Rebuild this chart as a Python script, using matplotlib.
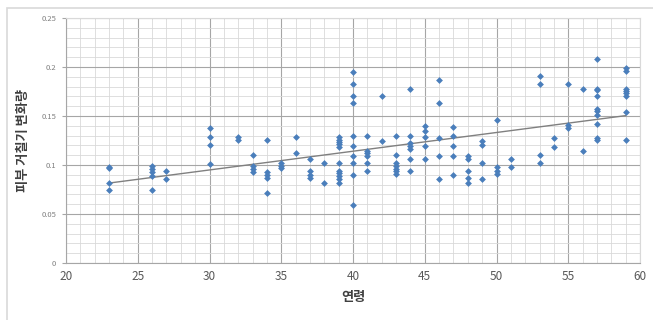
import numpy as np
import matplotlib
matplotlib.use('Agg')
import matplotlib.pyplot as plt
from matplotlib.patches import Rectangle
from matplotlib.ticker import MultipleLocator, FuncFormatter

plt.rcParams['font.family'] = ['Noto Sans CJK KR', 'DejaVu Sans']

# 연령별 피부 거칠기 변화량
age_groups = {
    23: [0.098, 0.097, 0.082, 0.074],
    26: [0.099, 0.0956, 0.0925, 0.089, 0.074],
    27: [0.094, 0.086],
    30: [0.138, 0.129, 0.120, 0.101],
    32: [0.129, 0.1255],
    33: [0.110, 0.099, 0.096, 0.093],
    34: [0.126, 0.093, 0.090, 0.087, 0.071],
    35: [0.102, 0.099, 0.097],
    36: [0.129, 0.112],
    37: [0.106, 0.0935, 0.090, 0.087],
    38: [0.102, 0.082],
    39: [0.129, 0.126, 0.123, 0.121, 0.118, 0.102, 0.094, 0.0915, 0.089, 0.086, 0.082],
    40: [0.195, 0.183, 0.170, 0.163, 0.130, 0.119, 0.1095, 0.102, 0.090, 0.059],
    41: [0.130, 0.1146, 0.112, 0.109, 0.102, 0.0935],
    42: [0.170, 0.124],
    43: [0.130, 0.110, 0.102, 0.099, 0.096, 0.0935, 0.091],
    44: [0.178, 0.130, 0.122, 0.119, 0.1166, 0.106, 0.0935],
    45: [0.140, 0.135, 0.129, 0.119, 0.106],
    46: [0.187, 0.163, 0.128, 0.109, 0.086],
    47: [0.139, 0.130, 0.119, 0.109, 0.090],
    48: [0.109, 0.106, 0.0935, 0.087, 0.082],
    49: [0.124, 0.120, 0.102, 0.086],
    50: [0.146, 0.0977, 0.094, 0.091],
    51: [0.106, 0.098],
    53: [0.191, 0.183, 0.110, 0.102],
    54: [0.1276, 0.118],
    55: [0.183, 0.1405, 0.138],
    56: [0.178, 0.114],
    57: [0.208, 0.178, 0.1765, 0.170, 0.1575, 0.155, 0.151, 0.142, 0.1276, 0.1255],
    59: [0.199, 0.196, 0.178, 0.176, 0.173, 0.170, 0.154, 0.126],
}
ages = [a for a, vals in age_groups.items() for _ in vals]
values = [v for vals in age_groups.values() for v in vals]

x_ticks = [20, 25, 30, 35, 40, 45, 50, 55, 60]
y_ticks = [0, 0.05, 0.1, 0.15, 0.2, 0.25]

fig = plt.figure(figsize=(6.53, 3.2), dpi=100)
ax = fig.add_axes([66 / 653, 57 / 320, 574 / 653, 245 / 320])

# Excel 차트 영역 테두리
fig.add_artist(Rectangle((7 / 653, -0.05), 1.1, 1.05 - 8 / 320,
                         transform=fig.transFigure, fill=False,
                         edgecolor='#d9d9d9', linewidth=1.2))

ax.scatter(ages, values, marker='D', s=12, color='#4a7ebb', zorder=3, linewidths=0)

# 선형 추세선
coef = np.polyfit(ages, values, 1)
xs = np.array([min(ages), max(ages)])
ax.plot(xs, np.polyval(coef, xs), color='#808080', linewidth=1.0, zorder=2)

ax.set_xlim(20, 60)
ax.set_ylim(0, 0.25)
ax.set_xticks(x_ticks)
ax.set_yticks(y_ticks)
ax.xaxis.set_minor_locator(MultipleLocator(1))
ax.yaxis.set_minor_locator(MultipleLocator(0.01))
ax.yaxis.set_major_formatter(FuncFormatter(lambda v, p: '0' if v == 0 else ('%g' % round(v, 2))))

ax.grid(which='major', color='#a6a6a6', linewidth=0.8, zorder=0)
ax.grid(which='minor', color='#d9d9d9', linewidth=0.6, zorder=0)
ax.set_axisbelow(True)

for s in ['top', 'right']:
    ax.spines[s].set_color('#d9d9d9')
for s in ['left', 'bottom']:
    ax.spines[s].set_color('#a6a6a6')

ax.tick_params(axis='y', which='major', labelsize=5.5, labelcolor='#7f7f7f',
               length=3, color='#a6a6a6', pad=4)
ax.tick_params(axis='x', which='major', labelsize=8.5, labelcolor='#595959',
               length=0, pad=5)
ax.tick_params(which='minor', length=0)

ax.set_xlabel('연령', fontsize=9.5, fontweight='bold', color='#404040', labelpad=5)
ax.set_ylabel('피부 거칠기 변화량', fontsize=9.5, fontweight='bold', color='#404040', labelpad=8)

fig.savefig('out.png', dpi=100)
